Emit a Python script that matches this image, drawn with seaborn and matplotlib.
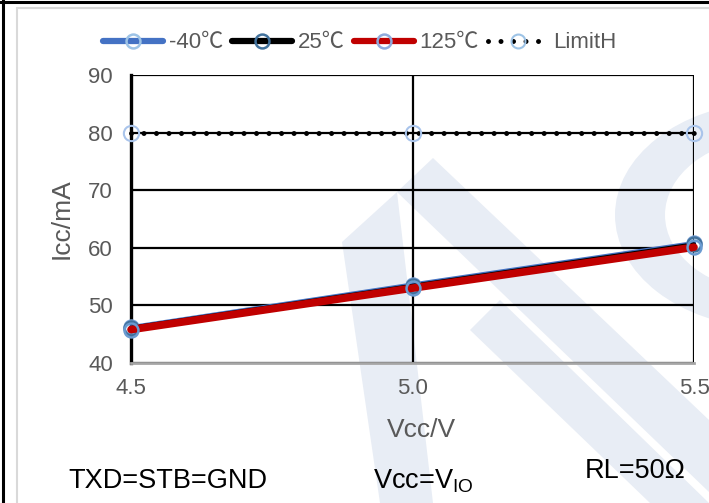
import matplotlib
matplotlib.use("Agg")
import matplotlib.pyplot as plt
import seaborn as sns
import pandas as pd
from matplotlib.lines import Line2D
from matplotlib.patches import Polygon, Wedge

# ---- data ----
vcc = [4.5, 5.0, 5.5]
icc_m40 = [46.2, 53.6, 60.8]
icc_25 = [46.1, 53.4, 60.6]
icc_125 = [45.8, 53.0, 60.1]
limit_h = [80, 80, 80]
series_names = ["-40℃", "25℃", "125℃", "LimitH"]
y_ticks = [40, 50, 60, 70, 80, 90]
x_ticks = [4.5, 5.0, 5.5]

sns.set_theme(style="white")
plt.rcParams["font.family"] = ["Liberation Sans", "Noto Sans CJK SC", "DejaVu Sans"]

W, H = 709, 503
fig = plt.figure(figsize=(W / 100, H / 100), dpi=100)
fig.patch.set_facecolor("white")

def fx(x):
    return x / W

def fy(y):
    return 1 - y / H

# watermark
wm = "#E8EDF5"
def poly(pts):
    p = Polygon([(fx(a), fy(b)) for a, b in pts], closed=True, transform=fig.transFigure,
                facecolor=wm, edgecolor="none", zorder=-5)
    fig.patches.append(p)

poly([(342, 242), (397, 192), (433, 503), (380, 503)])
poly([(397, 192), (433, 158), (709, 420), (709, 492)])
poly([(470, 330), (500, 300), (709, 503), (650, 503)])
wd = Wedge((fx(775), fy(215)), 160 / W, 95, 265, width=50 / W, transform=fig.transFigure,
           facecolor=wm, edgecolor="none", zorder=-5)
fig.patches.append(wd)

# frame lines
fig.add_artist(Line2D([0, 1], [fy(1.5), fy(1.5)], color="black", lw=2.2, transform=fig.transFigure))
fig.add_artist(Line2D([fx(2.5), fx(2.5)], [0, 1], color="black", lw=2.2, transform=fig.transFigure))
fig.add_artist(Line2D([fx(17), 1], [fy(7.5), fy(7.5)], color="#D9D9D9", lw=1.5, transform=fig.transFigure))
fig.add_artist(Line2D([fx(17), fx(17)], [0, fy(7.5)], color="#D9D9D9", lw=1.5, transform=fig.transFigure))

# axes
x0, x1, yt, yb = 131, 694, 75, 363
ax = fig.add_axes([fx(x0), fy(yb), fx(x1) - fx(x0), fy(yt) - fy(yb)])
ax.set_facecolor("none")

df = pd.DataFrame({"Vcc": vcc, "m40": icc_m40, "t25": icc_25, "t125": icc_125, "lim": limit_h})

mk = dict(marker="o", markersize=10, markerfacecolor="none", markeredgewidth=1.8)
sns.lineplot(data=df, x="Vcc", y="m40", ax=ax, color="#4472C4", lw=3.2,
             markeredgecolor="#7EA6DA", zorder=3, **mk)
sns.lineplot(data=df, x="Vcc", y="t25", ax=ax, color="black", lw=3.0,
             markeredgecolor="#41719C", zorder=4, **mk)
sns.lineplot(data=df, x="Vcc", y="t125", ax=ax, color="#C00000", lw=5.5,
             markeredgecolor="#6A9BD1", zorder=5, **mk)
# LimitH: thin line + dots
sns.lineplot(data=df, x="Vcc", y="lim", ax=ax, color="black", lw=1.2, zorder=3)
ax.plot(vcc, limit_h, color="black", lw=3.6, ls=(0, (0.001, 2.5)), dash_capstyle="round", zorder=3)
ax.plot(vcc, limit_h, ls="none", marker="o", markersize=11, markerfacecolor="none",
        markeredgecolor="#A9C4EB", markeredgewidth=1.5, zorder=6, clip_on=False)

ax.set_xlim(4.5, 5.5)
ax.set_ylim(40, 90)
ax.set_xticks(x_ticks)
ax.set_xticklabels([f"{v:.1f}" for v in x_ticks])
ax.set_yticks(y_ticks)
ax.grid(True, color="black", lw=1.6)
ax.set_axisbelow(True)
for s in ["top", "right"]:
    ax.spines[s].set_visible(False)
ax.spines["left"].set_color("black")
ax.spines["left"].set_linewidth(2.4)
ax.spines["bottom"].set_color("#A6A6A6")
ax.spines["bottom"].set_linewidth(2.0)
ax.tick_params(axis="both", length=0, labelsize=16, labelcolor="#595959")
ax.tick_params(axis="y", pad=13)
ax.tick_params(axis="x", pad=11)
ax.set_xlabel("")
ax.set_ylabel("")
for lab in ax.get_lines():
    lab.set_clip_on(False)

# axis labels
fig.text(fx(62), fy(219), "Icc/mA", rotation=90, ha="center", va="center", fontsize=19, color="#595959")
fig.text(fx(421), fy(430), "Vcc/V", ha="center", va="center", fontsize=19, color="#595959")

# annotations
fig.text(fx(68), fy(481), "TXD=STB=GND", ha="left", va="center", fontsize=19.5, color="black")
fig.text(fx(373), fy(481), "Vcc=V$_{\\mathregular{IO}}$", ha="left", va="center", fontsize=19.5, color="black")
fig.text(fx(585), fy(471), "RL=50Ω", ha="left", va="center", fontsize=19.5, color="black")

# legend
handles = [
    Line2D([], [], color="#4472C4", lw=4.5, marker="o", markersize=10, markerfacecolor="none",
           markeredgecolor="#9DC3E6", markeredgewidth=1.8),
    Line2D([], [], color="black", lw=4.5, marker="o", markersize=10, markerfacecolor="none",
           markeredgecolor="#41719C", markeredgewidth=1.8),
    Line2D([], [], color="#C00000", lw=4.5, marker="o", markersize=10, markerfacecolor="none",
           markeredgecolor="#8FAADC", markeredgewidth=1.8),
    Line2D([], [], color="black", lw=3.6, ls=(0, (0.001, 2.5)), dash_capstyle="round", marker="o",
           markersize=10, markerfacecolor="none", markeredgecolor="#9DC3E6", markeredgewidth=1.5),
]
leg = fig.legend(handles, series_names, loc="center", bbox_to_anchor=(fx(360), fy(43)), ncol=4,
                 frameon=False, fontsize=16, handlelength=2.7, handletextpad=0.25, columnspacing=0.4,
                 labelcolor="#595959")

fig.savefig("out.png", dpi=100)
